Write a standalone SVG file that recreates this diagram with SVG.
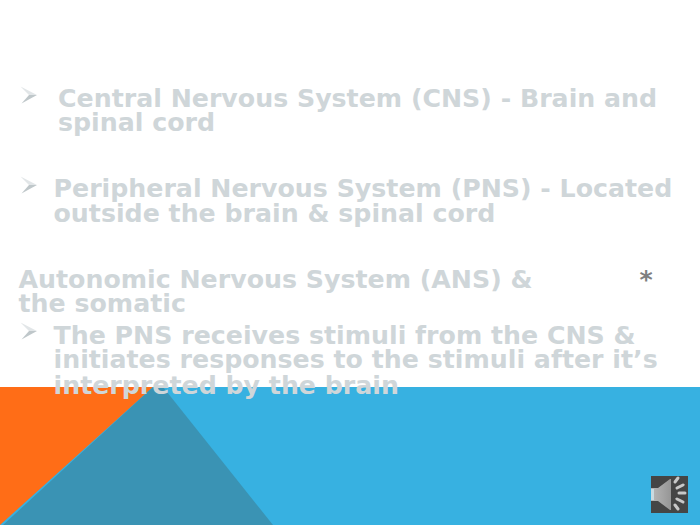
<svg xmlns="http://www.w3.org/2000/svg" width="700" height="525" viewBox="0 0 700 525">
<style>
.t{font-family:"DejaVu Sans",sans-serif;font-weight:700;font-size:25.25px;fill:#cfd6d9}
.bu{fill:#e2e6e8}
.bd{fill:#bfc7ca}
.tick{stroke:#c8c8c8;stroke-width:3;stroke-linecap:round}
</style>
<defs>
<linearGradient id="cone" x1="0" y1="0" x2="1" y2="0"><stop offset="0" stop-color="#b8b8b8"/><stop offset="1" stop-color="#969696"/></linearGradient>
<g id="arrow">
<polygon class="bu" points="20.5,86.5 37,95 29,95"/>
<polygon class="bd" points="21.5,103.5 37,95 29,95"/>
</g>
</defs>
<rect width="700" height="525" fill="#ffffff"/>
<g id="background">
<rect x="0" y="387" width="700" height="138" fill="#37b1e1"/>
<polygon points="0,387 153,387 0,525" fill="#ff6d17"/>
<polygon points="153,387 163,387 273,525 3,525" fill="#3a93b4"/>
</g>
<g id="bullets">
<use href="#arrow"/>
<use href="#arrow" y="90"/>
<use href="#arrow" y="236"/>
</g>
<g id="text">
<text class="t" x="58" y="107">Central Nervous System (CNS) - Brain and</text>
<text class="t" x="58" y="131">spinal cord</text>
<text class="t" x="53.5" y="197">Peripheral Nervous System (PNS) - Located</text>
<text class="t" x="53.5" y="222">outside the brain &amp; spinal cord</text>
<text class="t" x="18.5" y="288">Autonomic Nervous System (ANS) &amp;</text>
<text class="t" x="18.5" y="312">the somatic</text>
<text class="t" x="53.5" y="344">The PNS receives stimuli from the CNS &amp;</text>
<text class="t" x="53.5" y="368">initiates responses to the stimuli after it’s</text>
<text class="t" x="53.5" y="394">interpreted by the brain</text>
<text class="t" x="639.5" y="288" style="fill:#7f7f7f">*</text>
</g>
<g id="speaker">
<rect x="651" y="476" width="37" height="37" fill="#454545"/>
<polygon points="651,488 658,488 670,479 671,479 671,510 670,510 658,501 651,501" fill="url(#cone)"/>
<rect x="651" y="489" width="3" height="11" fill="#c9dbe2"/>
<line class="tick" x1="675" y1="482" x2="678" y2="478"/>
<line class="tick" x1="677" y1="488" x2="683" y2="485"/>
<line class="tick" x1="679" y1="493" x2="685" y2="493"/>
<line class="tick" x1="677" y1="499" x2="683" y2="502"/>
<line class="tick" x1="675" y1="505" x2="678" y2="509"/>
</g>
</svg>
